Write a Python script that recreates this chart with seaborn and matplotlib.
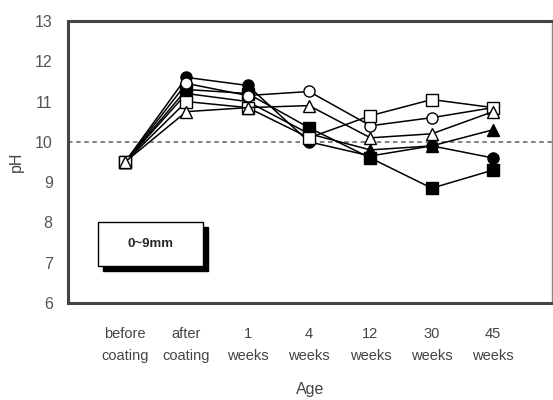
import matplotlib
matplotlib.use("Agg")
import matplotlib.pyplot as plt
import seaborn as sns
import pandas as pd
from matplotlib.patches import Rectangle

categories = ["before\ncoating", "after\ncoating", "1\nweeks", "4\nweeks", "12\nweeks", "30\nweeks", "45\nweeks"]
filled_circle = [9.5, 11.6, 11.4, 10.0, 9.65, 9.9, 9.6]
filled_square = [9.5, 11.3, 11.2, 10.35, 9.6, 8.85, 9.3]
filled_triangle = [9.5, 11.2, 11.0, 10.2, 9.8, 9.9, 10.3]
open_circle = [9.5, 11.45, 11.15, 11.25, 10.4, 10.6, 10.85]
open_square = [9.5, 11.0, 10.85, 10.1, 10.65, 11.05, 10.85]
open_triangle = [9.5, 10.75, 10.85, 10.9, 10.1, 10.2, 10.75]
yticks = [6, 7, 8, 9, 10, 11, 12, 13]

series = [
    ("filled_circle", filled_circle, "o", "black"),
    ("filled_square", filled_square, "s", "black"),
    ("filled_triangle", filled_triangle, "^", "black"),
    ("open_circle", open_circle, "o", "white"),
    ("open_square", open_square, "s", "white"),
    ("open_triangle", open_triangle, "^", "white"),
]

sns.set_style("white")
plt.rcParams['font.family'] = ['Liberation Sans', 'DejaVu Sans']

fig = plt.figure(figsize=(5.53, 4.00), dpi=100)
ax = fig.add_axes([68/553, 1-303/400, 484/553, 282/400])

for name, vals, mk, fc in series:
    df = pd.DataFrame({"x": list(range(len(categories))), "y": vals})
    sns.lineplot(data=df, x="x", y="y", ax=ax, color="black", linewidth=1.1,
                 marker=mk, markersize=8, markerfacecolor=fc,
                 markeredgecolor="black", markeredgewidth=1.0, legend=False)

ax.axhline(10, color="#777777", linestyle=(0, (2.5, 2)), linewidth=1.3, zorder=0)

ax.set_xlim(-0.93, 6.96)
ax.set_ylim(6, 13)
ax.set_yticks(yticks)
ax.set_xticks(range(len(categories)))
ax.set_xticklabels(categories, fontsize=10.5, color="#444444", linespacing=1.75)
ax.set_yticklabels([str(t) for t in yticks], fontsize=11.5, color="#555555")
ax.tick_params(axis="both", direction="in", length=4, width=1.5, color="#333333")
ax.tick_params(axis="y", pad=11)
ax.tick_params(axis="x", pad=17)
ax.set_xlabel("Age", fontsize=11.5, color="#444444", labelpad=14)
ax.set_ylabel("pH", fontsize=11.5, color="#444444", labelpad=8)

for s in ["left", "bottom", "top"]:
    ax.spines[s].set_color("#444444")
    ax.spines[s].set_linewidth(2.2)
ax.spines["right"].set_color("#888888")
ax.spines["right"].set_linewidth(1.0)

# label box with shadow
bx, by, bw, bh = 0.062, 0.131, 0.217, 0.156
ax.add_patch(Rectangle((bx + 0.011, by - 0.018), bw, bh, transform=ax.transAxes,
                       facecolor="black", edgecolor="black", zorder=5))
ax.add_patch(Rectangle((bx, by), bw, bh, transform=ax.transAxes,
                       facecolor="white", edgecolor="black", linewidth=1.0, zorder=6))
ax.text(bx + bw/2, by + bh/2, "0~9mm", transform=ax.transAxes, ha="center", va="center",
        fontsize=9.5, fontweight="bold", zorder=7)

fig.savefig("out.png", dpi=100)
